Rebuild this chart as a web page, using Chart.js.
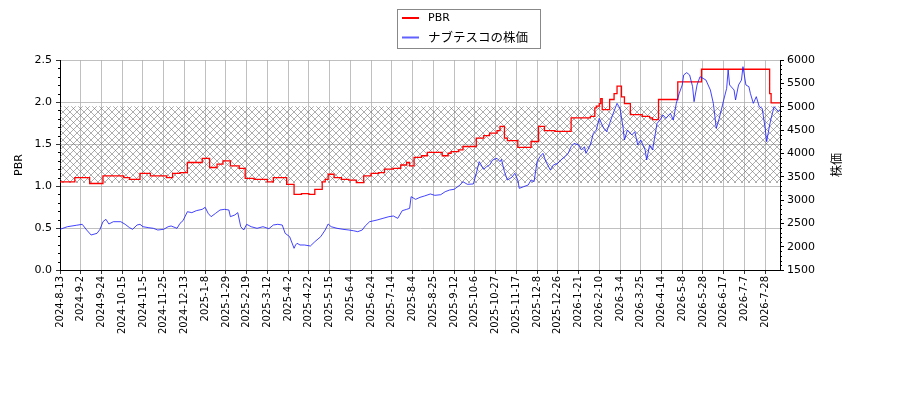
<!DOCTYPE html>
<html>
<head>
<meta charset="utf-8">
<script src="https://cdn.jsdelivr.net/npm/chart.js@4"></script>
<style>body{margin:0;background:#fff}</style>
</head>
<body>
<canvas id="graph" width="900" height="400"></canvas>
<script>
// x axis is the trading-day index since 2024-8-13
const lastDay = 486;
const tickDays = [0,14,28,42,56,70,84,98,112,126,140,154,168,182,196,210,224,238,252,266,280,294,308,322,336,350,364,378,392,406,420,434,448,462,476];
const tickLabels = ['2024-8-13','2024-9-2','2024-9-24','2024-10-15','2024-11-5','2024-11-25','2024-12-13','2025-1-8','2025-1-29','2025-2-19','2025-3-12','2025-4-2','2025-4-22','2025-5-15','2025-6-4','2025-6-24','2025-7-14','2025-8-4','2025-8-25','2025-9-12','2025-10-6','2025-10-27','2025-11-17','2025-12-8','2025-12-26','2026-1-21','2026-2-10','2026-3-4','2026-3-25','2026-4-14','2026-5-8','2026-5-28','2026-6-17','2026-7-7','2026-7-28'];

// PBR (step line)
const pbrDays = [0,10,20,29,43,47,54,61,72,76,81,86,96,101,106,110,115,121,125,131,140,144,153,158,163,168,172,177,179,181,185,190,195,200,205,210,215,219,225,230,234,236,239,244,248,258,262,264,269,272,281,286,290,295,297,300,302,309,318,323,327,334,345,358,361,362,364,365,366,371,374,376,379,381,385,393,398,400,404,417,433,479,480,486];
const pbrValues = [1.05,1.10,1.03,1.12,1.10,1.08,1.15,1.12,1.10,1.15,1.16,1.28,1.33,1.22,1.26,1.30,1.24,1.21,1.09,1.08,1.05,1.10,1.02,0.90,0.91,0.90,0.96,1.05,1.08,1.14,1.10,1.08,1.07,1.04,1.12,1.15,1.16,1.20,1.21,1.25,1.28,1.24,1.34,1.36,1.40,1.36,1.39,1.41,1.43,1.47,1.57,1.60,1.63,1.66,1.71,1.57,1.54,1.46,1.53,1.71,1.66,1.65,1.81,1.83,1.93,1.95,1.98,2.04,1.91,2.03,2.10,2.19,2.06,1.98,1.85,1.83,1.81,1.79,2.03,2.24,2.39,2.10,1.99,1.99];

// stock price
const priceDays = [0,5,11,15,18,21,25,27,29,31,33,36,41,44,47,49,52,54,56,60,63,66,70,73,75,79,81,83,86,89,92,96,98,100,102,105,108,111,114,115,118,120,122,124,126,129,133,137,141,144,147,150,152,155,158,159,160,162,165,169,172,176,179,181,183,187,191,195,198,201,204,206,209,214,218,222,225,228,231,234,236,237,240,243,246,250,253,257,260,263,266,270,272,275,279,281,283,286,288,290,292,295,297,298,300,302,305,307,309,310,313,316,318,320,322,324,326,328,331,333,336,338,341,343,345,347,350,352,354,355,358,360,362,364,367,369,371,373,376,378,380,381,383,386,388,390,392,395,396,398,400,403,405,407,409,412,414,416,418,420,421,423,425,427,428,430,432,434,436,439,441,443,445,448,450,451,452,455,456,458,460,461,463,465,466,468,470,472,474,476,477,479,480,482,485,486];
const priceValues = [2372,2428,2458,2479,2357,2250,2286,2372,2535,2586,2486,2535,2535,2479,2406,2372,2464,2479,2428,2406,2393,2357,2372,2428,2443,2393,2500,2556,2749,2729,2771,2800,2843,2714,2643,2714,2786,2800,2786,2643,2679,2729,2428,2357,2479,2428,2393,2428,2385,2464,2479,2464,2286,2214,1965,2036,2072,2036,2036,2014,2106,2214,2357,2486,2428,2393,2372,2357,2342,2321,2357,2443,2535,2571,2607,2643,2657,2607,2771,2800,2821,3071,3014,3057,3086,3129,3100,3114,3178,3214,3229,3321,3392,3336,3343,3572,3821,3658,3714,3750,3857,3893,3821,3871,3607,3429,3486,3572,3429,3250,3286,3321,3429,3392,3821,3929,4000,3821,3643,3750,3786,3857,3929,4000,4143,4214,4179,4071,4143,4000,4179,4429,4500,4750,4536,4464,4643,4821,5071,4964,4571,4286,4500,4393,4464,4179,4286,4071,3857,4179,4071,4643,4714,4821,4750,4857,4714,5071,5286,5464,5679,5729,5679,5429,5107,5464,5643,5607,5571,5357,5071,4536,4750,5143,5393,5786,5464,5357,5143,5464,5571,5857,5464,5429,5286,5071,5214,5000,4964,4536,4250,4607,4750,5000,4893,4929];

// hatched band (PBR units)
const bandLow = 1.035;
const bandHigh = 1.95;

// cross hatch pattern
const hatch = document.createElement('canvas');
hatch.width = 7; hatch.height = 7;
const hc = hatch.getContext('2d');
hc.strokeStyle = 'rgba(100,100,100,0.75)';
hc.lineWidth = 0.7;
hc.beginPath();
hc.moveTo(-1, -1); hc.lineTo(8, 8);
hc.moveTo(8, -1); hc.lineTo(-1, 8);
hc.stroke();
const hatchPattern = hc.createPattern(hatch, 'repeat');

const extras = {
  id: 'extras',
  afterDraw(chart) {
    const ctx = chart.ctx;
    const y = chart.scales.y, y2 = chart.scales.y2;
    ctx.save();
    // minor ticks
    ctx.strokeStyle = '#000';
    ctx.lineWidth = 1;
    ctx.beginPath();
    for (let v = 1; v < 25; v++) {
      if (v % 5 === 0) continue;
      const py = Math.round(y.getPixelForValue(v / 10)) + 0.5;
      ctx.moveTo(y.right, py); ctx.lineTo(y.right - 2, py);
    }
    for (let v = 16; v < 60; v++) {
      if (v % 5 === 0) continue;
      const py = Math.round(y2.getPixelForValue(v * 100)) + 0.5;
      ctx.moveTo(y2.left, py); ctx.lineTo(y2.left + 2, py);
    }
    ctx.stroke();

    // right axis title
    ctx.save();
    ctx.fillStyle = '#000';
    ctx.font = '12px "Noto Sans CJK JP"';
    ctx.translate(836, (chart.chartArea.top + chart.chartArea.bottom) / 2);
    ctx.rotate(-Math.PI / 2);
    ctx.textAlign = 'center';
    ctx.textBaseline = 'middle';
    ctx.fillText('株価', 0, 0);
    ctx.restore();

    // legend
    ctx.fillStyle = 'rgba(255,255,255,0.8)';
    ctx.fillRect(397.5, 9.5, 143, 39);
    ctx.strokeStyle = '#888';
    ctx.strokeRect(397.5, 9.5, 143, 39);
    ctx.lineWidth = 2;
    ctx.strokeStyle = '#ff0000';
    ctx.beginPath(); ctx.moveTo(402, 18); ctx.lineTo(419, 18); ctx.stroke();
    ctx.strokeStyle = 'rgba(80,80,255,0.9)';
    ctx.beginPath(); ctx.moveTo(402, 37.5); ctx.lineTo(419, 37.5); ctx.stroke();
    ctx.fillStyle = '#000';
    ctx.textBaseline = 'middle';
    ctx.font = '11px "DejaVu Sans"';
    ctx.fillText('PBR', 428, 18);
    ctx.font = '12.5px "Noto Sans CJK JP"';
    ctx.fillText('ナブテスコの株価', 428, 37.5);
    ctx.restore();
  }
};

const tickFont = { family: 'DejaVu Sans', size: 11 };

new Chart(document.getElementById('graph').getContext('2d'), {
  type: 'line',
  data: {
    datasets: [
      {
        label: 'ナブテスコの株価',
        data: priceDays.map((d, i) => ({ x: d, y: priceValues[i] })),
        yAxisID: 'y2',
        borderColor: 'rgba(20,20,255,0.8)',
        borderWidth: 1,
        pointRadius: 0,
        fill: false
      },
      {
        label: 'PBR',
        data: pbrDays.map((d, i) => ({ x: d, y: pbrValues[i] })),
        yAxisID: 'y',
        borderColor: '#ff0000',
        borderWidth: 1.3,
        stepped: true,
        pointRadius: 0,
        fill: false
      },
      {
        label: 'band',
        data: [{ x: 0, y: bandHigh }, { x: lastDay, y: bandHigh }],
        yAxisID: 'y',
        borderWidth: 0,
        borderColor: 'rgba(0,0,0,0)',
        pointRadius: 0,
        backgroundColor: hatchPattern,
        fill: { value: bandLow }
      }
    ]
  },
  options: {
    responsive: false,
    animation: false,
    layout: { padding: { top: 60, left: 0, right: 0, bottom: 0 } },
    plugins: { legend: { display: false }, tooltip: { enabled: false } },
    scales: {
      x: {
        type: 'linear',
        min: 0,
        max: lastDay,
        afterBuildTicks: s => { s.ticks = tickDays.map(v => ({ value: v })); },
        afterFit: s => { s.height = 130; },
        ticks: {
          autoSkip: false,
          minRotation: 90,
          maxRotation: 90,
          padding: 2,
          color: '#000',
          font: { family: 'DejaVu Sans', size: 10 },
          callback: (v, i) => tickLabels[i]
        },
        grid: { color: '#b0b0b0', lineWidth: 0.8, tickColor: '#000', tickLength: 4 },
        border: { color: '#000' }
      },
      y: {
        position: 'left',
        min: 0,
        max: 2.5,
        afterFit: s => { s.width = 60; },
        ticks: { stepSize: 0.5, padding: 4, color: '#000', font: tickFont, callback: v => v.toFixed(1) },
        grid: { color: '#b0b0b0', lineWidth: 0.8, tickColor: '#000', tickLength: 4 },
        border: { color: '#000' },
        title: { display: true, text: 'PBR', color: '#000', font: tickFont, padding: { top: 13, bottom: 0 } }
      },
      y2: {
        position: 'right',
        min: 1500,
        max: 6000,
        afterFit: s => { s.width = 120; },
        ticks: { stepSize: 500, padding: 3, color: '#000', font: tickFont, callback: v => String(v) },
        grid: { drawOnChartArea: false, tickColor: '#000', tickLength: 4 },
        border: { color: '#000' }
      }
    }
  },
  plugins: [extras]
});
</script>
</body>
</html>
